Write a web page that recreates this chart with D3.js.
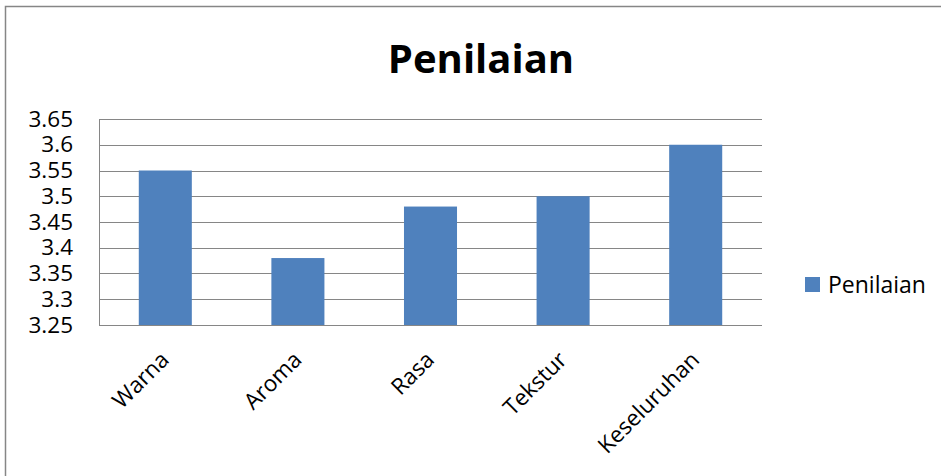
<!DOCTYPE html>
<html><head><meta charset="utf-8">
<script src="https://cdn.jsdelivr.net/npm/d3@7"></script>
<style>body{margin:0;background:#fff}svg{display:block}text{font-family:"Open Sans",sans-serif}</style>
</head><body><svg id="c" width="941" height="476"></svg>
<script>
const categories = ["Warna","Aroma","Rasa","Tekstur","Keseluruhan"];
const values = [3.55, 3.38, 3.48, 3.5, 3.6];
const seriesName = "Penilaian";
const yTicks = [3.25,3.3,3.35,3.4,3.45,3.5,3.55,3.6,3.65];
const yDomain = [3.25, 3.65];

const svg = d3.select("#c");
const gray = "#868686", blue = "#4f81bd";
svg.append("rect").attr("x",5.5).attr("y",6.5).attr("width",960).attr("height",500)
  .attr("fill","#fff").attr("stroke",gray).attr("stroke-width",1.5);

const L=99, R=762, T=119, B=325;
const x = d3.scaleBand().domain(categories).range([L,R]).paddingInner(0.6).paddingOuter(0.3);
const y = d3.scaleLinear().domain(yDomain).range([B,T]);

svg.append("g").selectAll("line").data(yTicks).join("line")
  .attr("x1",L).attr("x2",R).attr("y1",d=>Math.round(y(d))+0.5).attr("y2",d=>Math.round(y(d))+0.5)
  .attr("stroke",gray).attr("stroke-width",1);

svg.append("g").selectAll("rect").data(values).join("rect")
  .attr("x",(d,i)=>x(categories[i])).attr("width",x.bandwidth())
  .attr("y",d=>y(d)).attr("height",d=>B-y(d)).attr("fill",blue);

svg.append("line").attr("x1",L+0.5).attr("x2",L+0.5).attr("y1",T).attr("y2",B+1).attr("stroke",gray);
svg.append("line").attr("x1",L).attr("x2",R).attr("y1",B+0.5).attr("y2",B+0.5).attr("stroke",gray);

const ya = d3.axisLeft(y).tickValues(yTicks).tickFormat(d3.format("")).tickSize(0).tickPadding(0);
const gy = svg.append("g").attr("transform",`translate(${L-26},0)`).call(ya);
gy.select(".domain").remove();
gy.selectAll("text").attr("font-size",22.5).attr("fill","#000").style("font-family","'Open Sans',sans-serif");

svg.append("g").selectAll("text").data(categories).join("text")
  .attr("transform",d=>`translate(${x(d)+x.bandwidth()/2-6},${B+25}) rotate(-45)`)
  .attr("text-anchor","end").attr("font-size",22.5).attr("dy","0.7em").text(d=>d);

svg.append("text").attr("x",481).attr("y",73).attr("text-anchor","middle")
  .attr("font-size",40).attr("font-weight","bold").text(seriesName);

svg.append("rect").attr("x",805).attr("y",277).attr("width",15).attr("height",15).attr("fill",blue);
svg.append("text").attr("x",828).attr("y",293).attr("font-size",23).text(seriesName);
</script></body></html>
